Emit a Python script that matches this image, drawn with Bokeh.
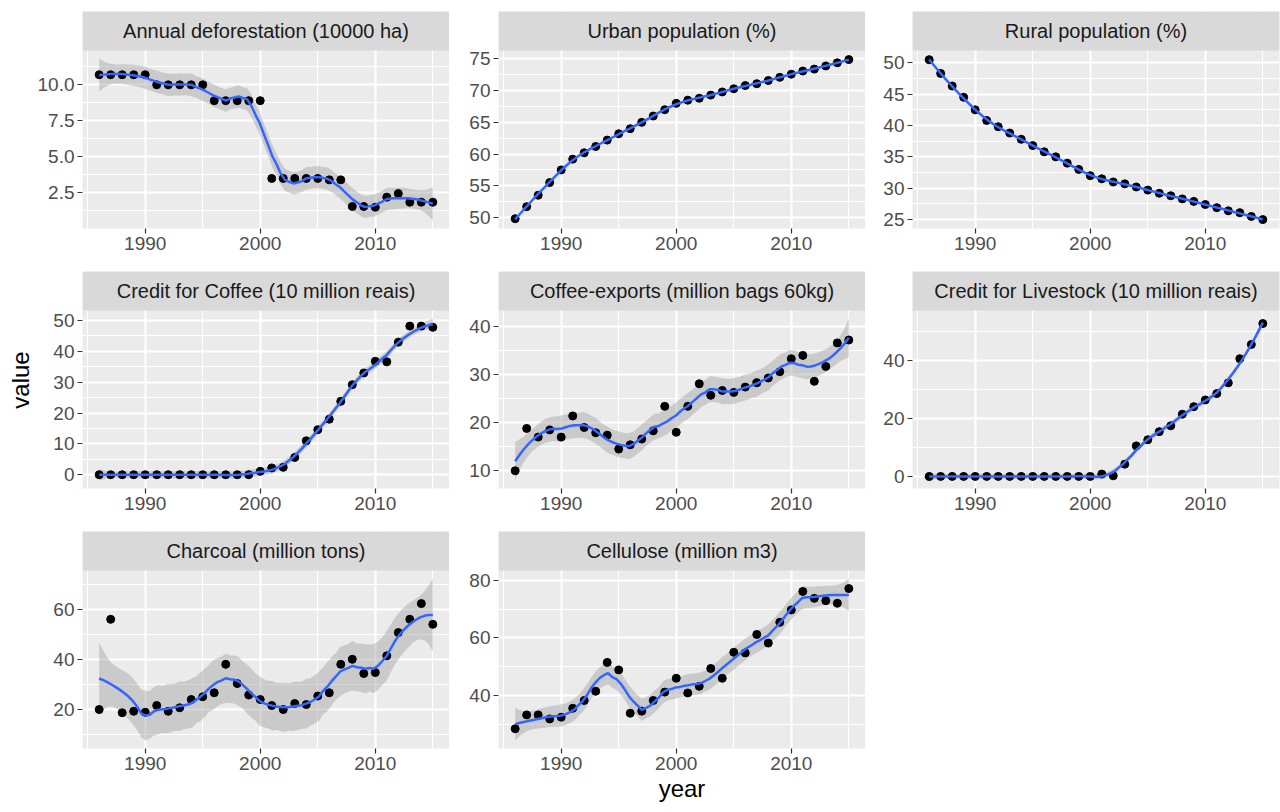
import numpy as np
from bokeh.plotting import figure
from bokeh.layouts import gridplot
from bokeh.models import Range1d, FixedTicker
from bokeh.core.properties import value
from bokeh.embed import file_html
from bokeh.resources import INLINE

# ---------------- data ----------------
years = [1986, 1987, 1988, 1989, 1990, 1991, 1992, 1993, 1994, 1995,
         1996, 1997, 1998, 1999, 2000, 2001, 2002, 2003, 2004, 2005,
         2006, 2007, 2008, 2009, 2010, 2011, 2012, 2013, 2014, 2015]

deforestation = [10.7, 10.7, 10.7, 10.7, 10.7, 10.0, 10.0, 10.0, 10.0, 10.0,
                 8.9, 8.9, 8.9, 8.9, 8.9, 3.5, 3.5, 3.5, 3.5, 3.5,
                 3.4, 3.4, 1.55, 1.55, 1.5, 2.2, 2.45, 1.85, 1.85, 1.85]
urban = [49.8, 51.7, 53.5, 55.5, 57.5, 59.2, 60.2, 61.2, 62.2, 63.2,
         64.0, 65.0, 66.0, 67.0, 68.0, 68.5, 68.8, 69.3, 69.8, 70.3,
         70.8, 71.1, 71.6, 72.1, 72.6, 73.1, 73.4, 73.9, 74.4, 74.9]
rural = [50.5, 48.3, 46.3, 44.5, 42.5, 40.8, 39.8, 38.8, 37.8, 36.8,
         35.8, 35.0, 34.0, 33.0, 32.0, 31.5, 31.0, 30.7, 30.2, 29.7,
         29.2, 28.8, 28.3, 27.9, 27.4, 26.9, 26.4, 26.1, 25.5, 25.0]
credit_coffee = [0.0, 0.0, 0.0, 0.0, 0.0, 0.0, 0.0, 0.0, 0.0, 0.0,
                 0.0, 0.0, 0.0, 0.0, 1.1, 2.2, 2.4, 5.6, 11.0, 14.6,
                 18.0, 23.8, 29.2, 33.0, 36.8, 36.6, 43.0, 48.2, 48.2, 47.8]
coffee_exports = [10.0, 18.8, 17.0, 18.5, 17.0, 21.4, 19.0, 17.9, 17.4, 14.5,
                  15.4, 16.6, 18.3, 23.4, 18.0, 23.4, 28.1, 25.7, 26.7, 26.3,
                  27.4, 28.3, 29.3, 30.6, 33.3, 34.0, 28.6, 31.7, 36.6, 37.2]
credit_livestock = [0.0, 0.0, 0.0, 0.0, 0.0, 0.0, 0.0, 0.0, 0.0, 0.0,
                    0.0, 0.0, 0.0, 0.0, 0.0, 0.8, 0.2, 4.2, 10.5, 12.6,
                    15.4, 17.4, 21.4, 24.0, 26.3, 28.5, 32.2, 40.5, 45.4, 52.6]
charcoal = [20.0, 56.1, 18.7, 19.3, 18.9, 21.6, 19.3, 20.7, 24.0, 25.1,
            26.7, 38.1, 30.4, 25.8, 24.0, 21.6, 20.0, 22.4, 22.0, 25.4,
            26.7, 38.1, 40.1, 34.4, 34.8, 41.5, 50.8, 56.1, 62.4, 54.1]
cellulose = [28.5, 33.3, 33.3, 31.9, 32.5, 35.6, 38.3, 41.5, 51.5, 48.9,
             33.9, 34.6, 38.3, 41.2, 46.0, 40.9, 43.2, 49.4, 46.0, 55.0,
             54.8, 61.2, 58.2, 65.4, 69.7, 76.1, 73.7, 72.9, 72.0, 77.1]

titles = ["Annual deforestation (10000 ha)", "Urban population (%)", "Rural population (%)",
          "Credit for Coffee (10 million reais)", "Coffee-exports (million bags 60kg)",
          "Credit for Livestock (10 million reais)", "Charcoal (million tons)",
          "Cellulose (million m3)"]

x_ticks = [1990, 2000, 2010]
y_ticks = [[2.5, 5.0, 7.5, 10.0], [50, 55, 60, 65, 70, 75], [25, 30, 35, 40, 45, 50],
           [0, 10, 20, 30, 40, 50], [10, 20, 30, 40], [0, 20, 40], [20, 40, 60], [40, 60, 80]]
y_labels = [["2.5", "5.0", "7.5", "10.0"], ["50", "55", "60", "65", "70", "75"],
            ["25", "30", "35", "40", "45", "50"], ["0", "10", "20", "30", "40", "50"],
            ["10", "20", "30", "40"], ["0", "20", "40"], ["20", "40", "60"], ["40", "60", "80"]]
series = [deforestation, urban, rural, credit_coffee, coffee_exports,
          credit_livestock, charcoal, cellulose]

SPAN = 0.3


# ---------------- loess smoother (local quadratic, tricube weights) ----------------
def t_quantile(df):
    z = 1.959964
    g1 = (z**3 + z) / 4
    g2 = (5 * z**5 + 16 * z**3 + 3 * z) / 96
    g3 = (3 * z**7 + 19 * z**5 + 17 * z**3 - 15 * z) / 384
    return z + g1 / df + g2 / df**2 + g3 / df**3


def loess(xd, yd, xs, span, deg=2):
    xd = np.asarray(xd, float)
    yd = np.asarray(yd, float)
    n = len(xd)
    q = int(np.floor(n * span))

    def op(x0):
        d = np.abs(xd - x0)
        h = max(np.sort(d)[q - 1] * 1.001, 1e-9)
        u = np.clip(d / h, 0, 1)
        w = (1 - u**3)**3
        X = np.vander(xd - x0, deg + 1, increasing=True)
        XtW = X.T * w
        return np.linalg.solve(XtW @ X, XtW)[0]

    L = np.array([op(x0) for x0 in xd])
    IL = np.eye(n) - L
    M = IL.T @ IL
    d1 = np.trace(M)
    d2 = np.trace(M @ M)
    res = yd - L @ yd
    s = np.sqrt(np.sum(res**2) / d1)
    t = t_quantile(d1**2 / d2)
    Ls = np.array([op(x0) for x0 in xs])
    fit = Ls @ yd
    se = s * np.sqrt(np.sum(Ls**2, axis=1))
    return fit, fit - t * se, fit + t * se


# ---------------- layout ----------------
FONT = "Liberation Sans"
FW, FH, SH = 367, 178, 39          # panel width, data-area height, strip height
col_left = [82, 49, 47]
col_right = [0, 0, 1]
row_top = [11, 0, 0]
row_bottom = [43, 43, 64]

x0, x1 = min(years), max(years)
xpad = 0.05 * (x1 - x0)
xs = np.linspace(x0, x1, 80)
x_minor = [x_ticks[0] - 5] + [a + 5 for a in x_ticks]


def make_panel(i, c, r):
    vals = series[i]
    fit, lo, hi = loess(years, vals, xs, SPAN)
    ymin = min(min(vals), lo.min())
    ymax = max(max(vals), hi.max())
    ypad = 0.05 * (ymax - ymin)
    a, b = ymin - ypad, ymax + ypad
    top = b + (b - a) * SH / FH
    xl, xr = x0 - xpad, x1 + xpad
    p = figure(x_range=Range1d(xl, xr), y_range=Range1d(a, top),
               frame_width=FW, frame_height=FH + SH,
               min_border_left=col_left[c], min_border_right=col_right[c],
               min_border_top=row_top[r], min_border_bottom=row_bottom[r],
               toolbar_location=None, output_backend="svg",
               background_fill_color="#ebebeb", border_fill_color="white",
               outline_line_color=None)
    yt = y_ticks[i]
    step = yt[1] - yt[0]
    y_minor = [yt[0] - step / 2] + [v + step / 2 for v in yt]
    p.xaxis.ticker = FixedTicker(ticks=x_ticks, minor_ticks=x_minor)
    p.yaxis.ticker = FixedTicker(ticks=yt, minor_ticks=y_minor)
    p.yaxis.major_label_overrides = {v: lab for v, lab in zip(yt, y_labels[i])}
    p.yaxis.bounds = (a, b)
    for ax in (p.xaxis[0], p.yaxis[0]):
        ax.axis_line_color = None
        ax.major_tick_line_color = "#333333"
        ax.major_tick_line_width = 1.2
        ax.major_tick_out = 5
        ax.major_tick_in = 0
        ax.minor_tick_line_color = None
        ax.major_label_text_font = FONT
        ax.major_label_text_font_size = "19px"
        ax.major_label_text_color = "#4d4d4d"
        ax.major_label_standoff = 3
        ax.axis_label_text_font = FONT
        ax.axis_label_text_font_size = "24px"
        ax.axis_label_text_font_style = "normal"
        ax.axis_label_text_color = "black"
    for g in (p.xgrid[0], p.ygrid[0]):
        g.grid_line_color = "white"
        g.grid_line_width = 2
        g.minor_grid_line_color = "white"
        g.minor_grid_line_width = 1
    if i == 3:
        p.yaxis.axis_label = "value"
        p.yaxis.axis_label_standoff = 16
    if i == 7:
        p.xaxis.axis_label = "year"
        p.xaxis.axis_label_standoff = 2
    # facet strip
    p.quad(left=[xl], right=[xr], bottom=[b], top=[top],
           fill_color="#d9d9d9", line_color=None)
    p.text(x=[(xl + xr) / 2], y=[(b + top) / 2], text=[titles[i]],
           text_align="center", text_baseline="middle",
           text_font=value(FONT), text_font_size="20px", text_color="#1a1a1a")
    # data
    p.varea(x=xs, y1=lo, y2=hi, fill_color="#999999", fill_alpha=0.4)
    p.scatter(years, vals, size=8, color="black")
    p.line(xs, fit, line_color="#3366FF", line_width=2.5)
    return p


rows = []
idx = 0
for r in range(3):
    row = []
    for c in range(3):
        row.append(make_panel(idx, c, r) if idx < len(series) else None)
        idx += 1
    rows.append(row)

grid = gridplot(rows, toolbar_location=None)

html = file_html(grid, INLINE)
html = html.replace("<head>", "<head><style>html,body{margin:0;padding:0;}</style>", 1)
open("out.html", "w").write(html)
